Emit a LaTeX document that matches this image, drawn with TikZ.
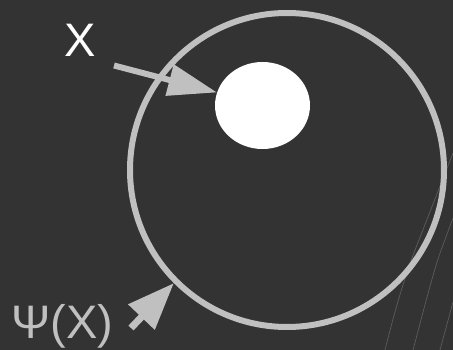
\documentclass[tikz,border=0pt]{standalone}
\usepackage{fontspec}
\setmainfont{Liberation Sans}
\usetikzlibrary{arrows.meta,shapes.geometric}
\definecolor{bg}{HTML}{333333}
\definecolor{ring}{HTML}{C0C0C0}
\definecolor{faint}{HTML}{5C5C5C}
\tikzset{
  bigring/.style={circle, draw=ring, line width=6pt, minimum size=314pt, inner sep=0pt},
  blob/.style={ellipse, fill=white, minimum width=95pt, minimum height=87pt, inner sep=0pt},
  pointer/.style={draw=ring, line width=6pt, -{Triangle[length=49pt,width=31pt]}},
  lbl/.style={font=\fontsize{47}{50}\selectfont, inner sep=0pt, anchor=base west},
  faintline/.style={draw=faint, line width=0.7pt}
}
\begin{document}
\begin{tikzpicture}[x=1pt,y=-1pt]
\fill[bg] (0,0) rectangle (453,350);
\useasboundingbox (0,0) rectangle (453,350);
% faint background lines
\draw[faintline] (385,350) .. controls (395,310) and (405,275) .. (417,245) -- (453,153);
\draw[faintline] (413,350) .. controls (425,305) and (435,265) .. (443,245) -- (453,218);
\draw[faintline] (440,350) -- (453,302);
% shapes
\node[bigring] (psi) at (287,170) {};
\node[blob] (x) at (262.5,105.5) {};
% labels
\node[lbl, text=white] (xl) at (64,57) {X};
\node[lbl, text=ring] (psil) at (11,338) {Ψ(X)};
% arrows
\coordinate (a1) at (114,65.5);
\coordinate (a2) at (131,328);
\draw[pointer] (a1) -- (x.164);
\draw[pointer, line width=7pt, -{Triangle[length=47pt,width=35pt]}] (a2) -- (psi.225);
\end{tikzpicture}
\end{document}
